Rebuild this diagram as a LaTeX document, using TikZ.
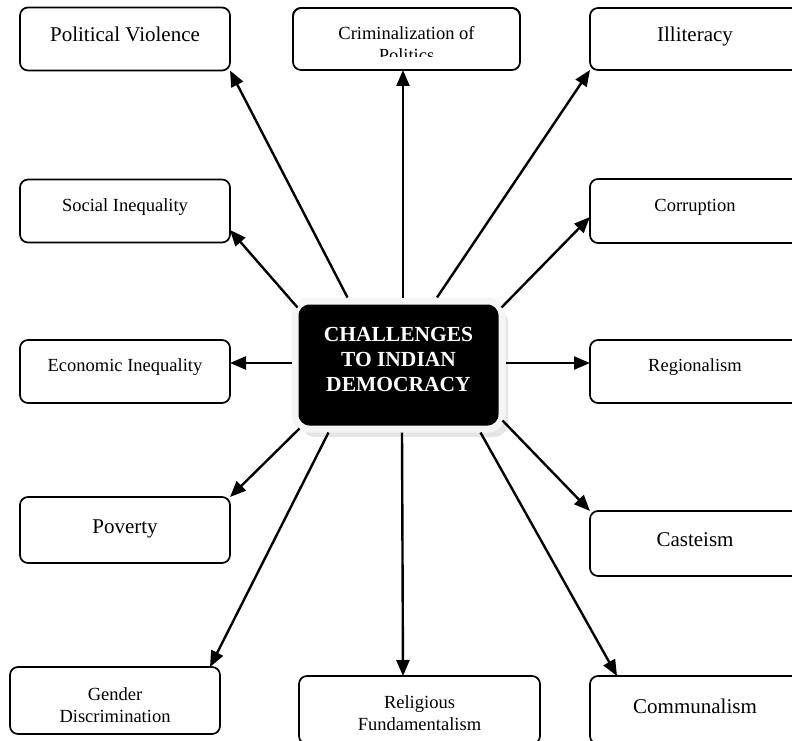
\documentclass[tikz,border=0pt]{standalone}
\usepackage{fontspec}
\setmainfont{Liberation Serif}
\usetikzlibrary{arrows.meta,shadows}
\tikzset{
  box/.style={draw, line width=1.7pt, rounded corners=8pt, fill=white, outer sep=0pt,
    minimum width=210, minimum height=63, align=center, text height=14pt, text depth=14pt},
  bigtext/.style={font=\fontsize{21}{25}\selectfont, text height=17pt, text depth=11pt},
  smalltext/.style={font=\fontsize{18.5}{22}\selectfont},
  twoline/.style={text height=, text depth=},
  hub/.style={fill=black, draw=gray!8, line width=7pt, rounded corners=14pt,
    minimum width=207, minimum height=128, align=center, text=white,
    font=\fontsize{21.5}{25}\selectfont\bfseries,
    drop shadow={fill=gray!40, shadow xshift=6pt, shadow yshift=-8pt}},
  link/.style={line width=2.4pt, -{Triangle[length=16pt,width=13pt]}}
}
\begin{document}
\begin{tikzpicture}[x=1pt,y=-1pt]
\useasboundingbox (0,0) rectangle (792,741);
\clip (0,0) rectangle (792,741);
% centre
\node[hub] (hub) at (398.5,365) {CHALLENGES\\TO INDIAN\\DEMOCRACY\rule[-12pt]{0pt}{12pt}};
% left column
\node[box,bigtext] (pv) at (125,39) {Political Violence};
\node[box,smalltext] (si) at (125,211) {Social Inequality};
\node[box,smalltext] (ei) at (125,371.5) {Economic Inequality};
\node[box,bigtext,minimum height=66] (pov) at (125,530) {Poverty};
\node[box,smalltext,twoline,minimum height=67] (gd) at (115,700.5) {\rule{0pt}{21.5pt}Gender\\Discrimination};
% middle
\begin{scope}
\clip (0,0) rectangle (792,57);
\node[box,smalltext,twoline,minimum width=227,minimum height=62] (crim) at (406.5,39) {\rule{0pt}{24pt}Criminalization of\\Politics};
\end{scope}
\draw[line width=1.7pt, rounded corners=8pt] (crim.south west) rectangle (crim.north east);
\node[box,smalltext,twoline,minimum width=241,minimum height=68] (rf) at (419.5,710) {\rule{0pt}{20pt}Religious\\Fundamentalism};
% right column
\node[box,bigtext,minimum height=62] (ill) at (695,39) {Illiteracy};
\node[box,smalltext,minimum height=64] (cor) at (695,211) {Corruption};
\node[box,smalltext] (reg) at (695,371.5) {Regionalism};
\node[box,bigtext,minimum height=65] (cas) at (695,543.5) {Casteism};
\node[box,bigtext,minimum height=68] (com) at (695,710) {Communalism};
% arrows
\draw[link] ([xshift=-51pt]hub.north) -- (pv.south east);
\draw[link] ([xshift=4.5pt]hub.north) -- ([xshift=-3.5pt]crim.south);
\draw[link] ([xshift=38.5pt]hub.north) -- (ill.south west);
\draw[link] ([shift={(6pt,-10pt)}]hub.north west) -- ([yshift=-19pt]si.east);
\draw[link] ([shift={(-4pt,-10pt)}]hub.north east) -- ([yshift=-6pt]cor.west);
\draw[link] ([yshift=2pt]hub.west) -- ([yshift=8.5pt]ei.east);
\draw[link] ([yshift=2pt]hub.east) -- ([yshift=8.5pt]reg.west);
\draw[link] ([shift={(8pt,4pt)}]hub.south west) -- (pov.north east);
\draw[link] ([shift={(-3pt,12pt)}]hub.south east) -- (cas.north west);
\draw[link] ([xshift=-70pt]hub.south) -- ([xshift=-10pt]gd.north east);
\draw[link] ([xshift=3.5pt]hub.south) -- ([xshift=-16.5pt]rf.north);
\draw[link] ([xshift=82pt]hub.south) -- ([xshift=27pt]com.north west);
\end{tikzpicture}
\end{document}
